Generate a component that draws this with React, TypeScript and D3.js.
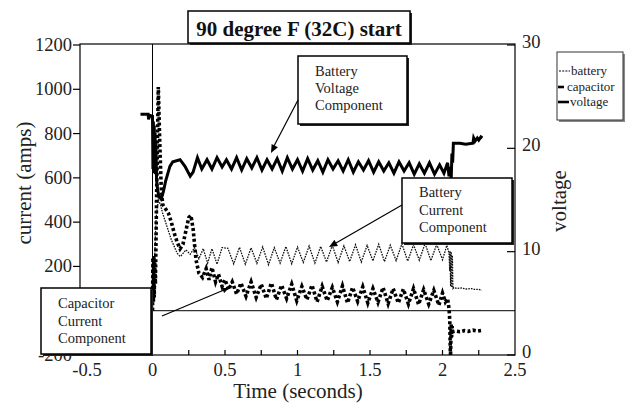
import React from 'react';
import * as d3 from 'd3';

const chartTitle = '90 degree F (32C) start';
const xTicks = [-0.5, 0, 0.5, 1, 1.5, 2, 2.5];
const xInnerTicks = [0.25, 0.5, 0.75, 1, 1.25, 1.5, 1.75, 2, 2.25];
const currentTicks = [-200, 0, 200, 400, 600, 800, 1000, 1200];
const currentTickLabels = ['-200', '', '200', '400', '600', '800', '1000', '1200'];
const voltTicks = [0, 10, 20, 30];

const voltageT = [-0.083, -0.03, -0.027, -0.02, 0.0, 0.003, 0.006, 0.009, 0.012, 0.015, 0.018, 0.021, 0.024, 0.028, 0.035, 0.045, 0.06, 0.075, 0.09, 0.12, 0.14, 0.19, 0.224, 0.26, 0.28, 0.31, 0.34, 0.376, 0.41, 0.445, 0.48, 0.51, 0.545, 0.58, 0.615, 0.65, 0.685, 0.72, 0.755, 0.79, 0.825, 0.86, 0.895, 0.93, 0.965, 1.0, 1.035, 1.07, 1.105, 1.14, 1.175, 1.21, 1.245, 1.28, 1.315, 1.35, 1.385, 1.42, 1.455, 1.49, 1.525, 1.56, 1.595, 1.63, 1.665, 1.7, 1.735, 1.77, 1.805, 1.84, 1.875, 1.91, 1.945, 1.98, 2.01, 2.035, 2.045, 2.055, 2.06, 2.065, 2.07, 2.075, 2.12, 2.16, 2.21, 2.215, 2.225, 2.24, 2.25, 2.265, 2.275];
const voltageV = [23.3, 23.3, 22.8, 23.2, 23.1, 18.0, 22.6, 17.6, 22.2, 18.2, 21.5, 17.5, 20.5, 17.0, 16.0, 15.3, 15.1, 15.8, 16.8, 18.25, 18.7, 18.9, 18.25, 17.3, 17.7, 19.1, 18.0, 18.9, 18.0, 19.1, 18.2, 18.9, 18.0, 19.1, 17.9, 19.0, 18.1, 19.1, 17.9, 18.9, 18.0, 19.0, 17.8, 19.1, 18.0, 18.9, 17.8, 19.0, 17.9, 18.8, 17.7, 18.9, 18.0, 18.8, 17.8, 18.9, 17.7, 18.7, 17.9, 18.8, 17.7, 18.7, 17.8, 18.6, 17.6, 18.7, 17.8, 18.6, 17.5, 18.5, 17.6, 18.6, 17.5, 18.4, 17.6, 18.6, 17.3, 18.2, 17.0, 19.5, 18.6, 20.5, 20.5, 20.4, 20.5, 21.0, 20.7, 21.0, 20.8, 21.1, 21.0];

const batteryT = [0.0, 0.01, 0.025, 0.04, 0.055, 0.07, 0.09, 0.11, 0.13, 0.15, 0.17, 0.19, 0.2, 0.23, 0.26, 0.29, 0.32, 0.35, 0.38, 0.41, 0.445, 0.48, 0.52, 0.56, 0.6, 0.64, 0.68, 0.72, 0.76, 0.8, 0.84, 0.88, 0.92, 0.96, 1.0, 1.04, 1.08, 1.12, 1.16, 1.2, 1.24, 1.28, 1.32, 1.36, 1.4, 1.44, 1.48, 1.52, 1.56, 1.6, 1.64, 1.68, 1.72, 1.76, 1.8, 1.84, 1.88, 1.92, 1.96, 2.0, 2.03, 2.045, 2.05, 2.052, 2.056, 2.06, 2.064, 2.068, 2.072, 2.08, 2.1, 2.13, 2.16, 2.2, 2.22, 2.25, 2.27];
const batteryA = [0, 150, 420, 500, 480, 440, 400, 360, 320, 290, 260, 245, 250, 275, 255, 285, 235, 280, 215, 280, 210, 285, 282, 212, 286, 210, 284, 214, 288, 208, 285, 215, 290, 212, 287, 218, 292, 215, 290, 220, 295, 218, 293, 222, 298, 220, 295, 225, 300, 222, 296, 226, 302, 224, 298, 228, 304, 226, 300, 230, 295, 260, 180, 270, 110, 265, 105, 250, 100, 105, 100, 103, 98, 100, 96, 97, 92];

const capacitorT = [0.0, 0.003, 0.006, 0.009, 0.012, 0.015, 0.02, 0.03, 0.04, 0.05, 0.06, 0.07, 0.09, 0.11, 0.13, 0.15, 0.17, 0.19, 0.21, 0.23, 0.25, 0.265, 0.28, 0.3, 0.32, 0.345, 0.37, 0.39, 0.41, 0.435, 0.455, 0.48, 0.5, 0.525, 0.55, 0.58, 0.61, 0.645, 0.68, 0.715, 0.75, 0.785, 0.82, 0.855, 0.89, 0.925, 0.96, 0.995, 1.03, 1.065, 1.1, 1.135, 1.17, 1.205, 1.24, 1.275, 1.31, 1.345, 1.38, 1.415, 1.45, 1.485, 1.52, 1.555, 1.59, 1.625, 1.66, 1.695, 1.73, 1.765, 1.8, 1.835, 1.87, 1.905, 1.94, 1.975, 2.0, 2.02, 2.035, 2.045, 2.05, 2.055, 2.06, 2.063, 2.066, 2.07, 2.09, 2.12, 2.15, 2.18, 2.21, 2.24, 2.27];
const capacitorA = [0, 240, 40, 250, 60, 230, 120, 600, 1010, 760, 560, 480, 460, 440, 400, 350, 310, 280, 300, 360, 420, 430, 370, 230, 170, 150, 190, 140, 195, 130, 165, 110, 140, 95, 130, 75, 125, 65, 130, 60, 120, 55, 125, 50, 115, 55, 120, 45, 110, 50, 115, 40, 110, 45, 105, 40, 112, 35, 105, 42, 108, 35, 100, 38, 105, 32, 100, 35, 98, 30, 100, 28, 95, 30, 92, 25, 80, 40, 55, 10, -40, -220, -60, -120, -70, -95, -92, -95, -90, -93, -88, -92, -89];

const FONT = "'Liberation Serif', 'Times New Roman', serif";

type Pt = [number, number];

function Box({ x, y, w, h, lines, tx, ty, gap }: { x: number; y: number; w: number; h: number; lines: string[]; tx: number; ty: number; gap: number }) {
  return (
    <g>
      <rect x={x + 2} y={y + 2} width={w} height={h} fill="#222" />
      <rect x={x} y={y} width={w} height={h} fill="#fff" stroke="#000" strokeWidth={1.5} />
      {lines.map((s, i) => (
        <text key={i} x={tx} y={ty + i * gap} fontSize={14.5} fontFamily={FONT} fill="#222">{s}</text>
      ))}
    </g>
  );
}

export default function App() {
  const W = 637, H = 406;
  const left = 80, right = 515, top = 44, bottom = 355;
  const x = d3.scaleLinear().domain([-0.5, 2.5]).range([left, right]);
  const yA = d3.scaleLinear().domain([-200, 1200]).range([bottom, top + 1]);
  const yV = d3.scaleLinear().domain([0, 30]).range([bottom, top + 1]);

  const lineA = d3.line<Pt>().x(d => x(d[0])).y(d => yA(d[1]));
  const lineV = d3.line<Pt>().x(d => x(d[0])).y(d => yV(d[1]));

  const battery: Pt[] = batteryT.map((t, i) => [t, batteryA[i]]);
  const capacitor: Pt[] = capacitorT.map((t, i) => [t, capacitorA[i]]);
  const voltage: Pt[] = voltageT.map((t, i) => [t, voltageV[i]]);

  const arrowHead = (tipX: number, tipY: number, fromX: number, fromY: number, size = 9) => {
    const ang = Math.atan2(tipY - fromY, tipX - fromX);
    const a1 = ang + Math.PI - 0.4, a2 = ang + Math.PI + 0.4;
    return `M${tipX},${tipY}L${tipX + size * Math.cos(a1)},${tipY + size * Math.sin(a1)}L${tipX + size * Math.cos(a2)},${tipY + size * Math.sin(a2)}Z`;
  };

  return (
    <svg width={W} height={H} style={{ position: 'absolute', left: 0, top: 0, display: 'block', background: '#fff' }} fontFamily={FONT}>
      <defs>
        <clipPath id="plot"><rect x={left} y={top} width={right - left} height={bottom - top} /></clipPath>
      </defs>
      <rect x={0} y={0} width={W} height={H} fill="#fff" />

      {/* frame */}
      <rect x={left} y={top} width={right - left} height={bottom - top} fill="none" stroke="#000" strokeWidth={1.2} />
      {/* zero lines */}
      <line x1={x(0)} x2={x(0)} y1={top} y2={bottom} stroke="#000" strokeWidth={1} />
      <line x1={left} x2={right} y1={yA(0)} y2={yA(0)} stroke="#000" strokeWidth={1} />

      {/* left ticks */}
      {currentTicks.map((v, i) => (
        <g key={v}>
          <line x1={left - 7} x2={left} y1={yA(v)} y2={yA(v)} stroke="#000" strokeWidth={1.2} />
          {currentTickLabels[i] && (
            <text x={left - 8} y={yA(v) + 6} textAnchor="end" fontSize={18.5} fill="#222">{currentTickLabels[i]}</text>
          )}
        </g>
      ))}
      {/* right ticks */}
      {voltTicks.map(v => (
        <g key={v}>
          <line x1={right - 8} x2={right} y1={yV(v)} y2={yV(v)} stroke="#000" strokeWidth={1.2} />
          <text x={right + 7} y={yV(v) + 3} textAnchor="start" fontSize={18.5} fill="#222">{v}</text>
        </g>
      ))}
      {/* x ticks */}
      {xInnerTicks.map(t => (
        <line key={t} x1={x(t)} x2={x(t)} y1={bottom} y2={bottom - 5} stroke="#000" strokeWidth={1.2} />
      ))}
      {xTicks.map(t => (
        <text key={t} x={x(t) + (t < 0 ? 7 : 0)} y={bottom + 21} textAnchor="middle" fontSize={18.5} fill="#222">{t}</text>
      ))}

      {/* axis titles */}
      <text transform="translate(31,183) rotate(-90)" textAnchor="middle" fontSize={21} fill="#222">current (amps)</text>
      <text transform="translate(566,201) rotate(-90)" textAnchor="middle" fontSize={21} fill="#222">voltage</text>
      <text x={298} y={398} textAnchor="middle" fontSize={21} fill="#222">Time (seconds)</text>

      {/* data */}
      <g clipPath="url(#plot)" fill="none">
        <path d={lineV(voltage) ?? ''} stroke="#000" strokeWidth={3} strokeLinejoin="miter" />
        <path d={lineA(battery) ?? ''} stroke="#111" strokeWidth={1.3} strokeDasharray="1.6 1.1" />
        <path d={lineA(capacitor) ?? ''} stroke="#000" strokeWidth={3.6} strokeDasharray="3 2.4" />
      </g>

      {/* title */}
      <rect x={190} y={13} width={222} height={32} fill="#222" />
      <rect x={188} y={11} width={222} height={32} fill="#fff" stroke="#000" strokeWidth={1.5} />
      <text x={299} y={36} textAnchor="middle" fontSize={21} fontWeight="bold" fill="#111">{chartTitle}</text>

      {/* legend */}
      <rect x={559} y={54} width={66} height={68} fill="#888" />
      <rect x={557} y={52} width={66} height={68} fill="#fff" stroke="#333" strokeWidth={1} />
      <line x1={559} x2={570} y1={71} y2={71} stroke="#000" strokeWidth={1} strokeDasharray="2 1.2" />
      <text x={571} y={75} fontSize={13} fill="#222">battery</text>
      <line x1={558} x2={564} y1={87} y2={87} stroke="#000" strokeWidth={2.6} />
      <text x={567} y={91} fontSize={13} fill="#222">capacitor</text>
      <line x1={558} x2={569} y1={102} y2={102} stroke="#000" strokeWidth={2.6} />
      <text x={570} y={106} fontSize={13} fill="#222">voltage</text>

      {/* annotations */}
      <Box x={298} y={56} w={109} h={68} lines={['Battery', 'Voltage', 'Component']} tx={315} ty={76} gap={17} />
      <line x1={298} y1={100} x2={274} y2={146} stroke="#000" strokeWidth={1.2} />
      <path d={arrowHead(271, 153, 298, 100)} fill="#000" />

      <Box x={402} y={178} w={110} h={65} lines={['Battery', 'Current', 'Component']} tx={419} ty={197} gap={17.5} />
      <line x1={402} y1={205} x2={336} y2={243} stroke="#000" strokeWidth={1.2} />
      <path d={arrowHead(329, 247, 402, 205)} fill="#000" />

      <Box x={41} y={288} w={110} h={66} lines={['Capacitor', 'Current', 'Component']} tx={58} ty={308} gap={17.5} />
      <line x1={162} y1={316} x2={224} y2={290} stroke="#000" strokeWidth={1.2} />
      <path d={arrowHead(229, 288, 162, 316, 7)} fill="#000" />
    </svg>
  );
}
